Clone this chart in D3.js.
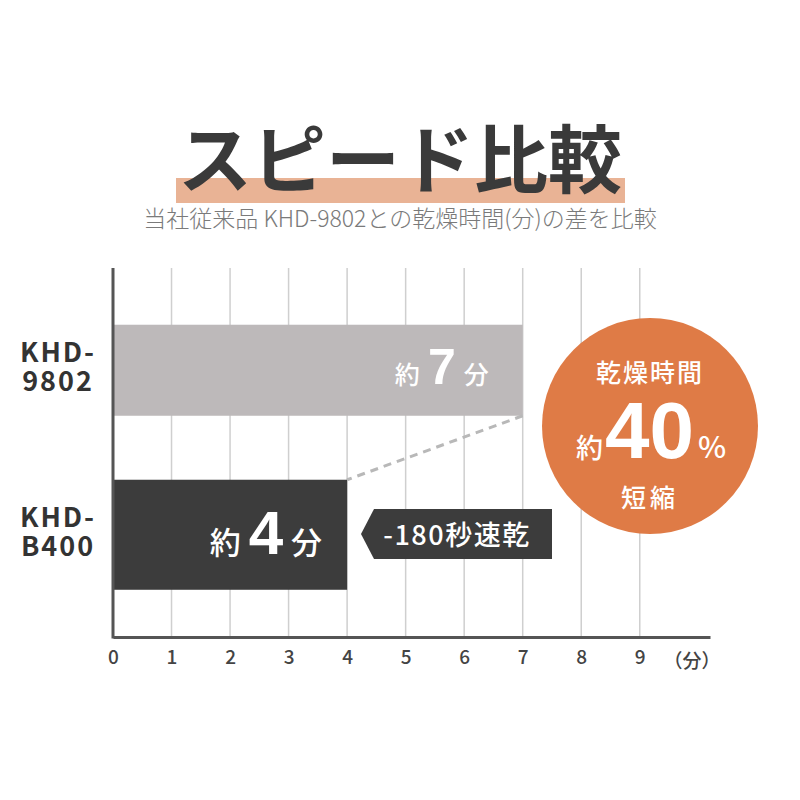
<!DOCTYPE html>
<html><head><meta charset="utf-8">
<script src="https://cdn.jsdelivr.net/npm/d3@7"></script>
<style>
html,body{margin:0;padding:0;background:#fff;}
text{font-family:"Noto Sans CJK JP","Noto Sans",sans-serif;}
</style></head>
<body>
<svg id="chart" width="800" height="800"></svg>
<script>
const categories = ["KHD-9802", "KHD-B400"];
const categoryLines = [["KHD-", "9802"], ["KHD-", "B400"]];
const minutes = [7, 4];
const xTicks = [0, 1, 2, 3, 4, 5, 6, 7, 8, 9];
const unitLabel = "（分）";
const title = "スピード比較";
const subtitle = "当社従来品 KHD-9802との乾燥時間(分)の差を比較";
const calloutText = "-180秒速乾";
const badgeLines = ["乾燥時間", "約", "40", "%", "短縮"];

const numFont = "'Liberation Sans',Arial,sans-serif";
const svg = d3.select("#chart");
const W = 800, H = 800;
svg.append("rect").attr("width", W).attr("height", H).attr("fill", "#fff");

// Title
svg.append("rect").attr("x", 176).attr("y", 178).attr("width", 449).attr("height", 25).attr("fill", "#e9b395");
svg.append("text").attr("x", 400).attr("y", 187).attr("text-anchor", "middle")
  .attr("font-size", 74).attr("font-weight", 700).attr("fill", "#3a3a3a").text(title);
svg.append("text").attr("x", 400).attr("y", 227).attr("text-anchor", "middle")
  .attr("font-size", 23).attr("font-weight", 300).attr("fill", "#7a7a7a").text(subtitle);

// Scales
const plotTop = 268, plotBottom = 637, plotLeft = 113;
const x = d3.scaleLinear().domain([0, 10.2]).range([plotLeft, 710]);
const y = d3.scaleBand().domain(categories).range([plotTop, plotBottom]).paddingInner(0.392).paddingOuter(0.3175);
const thick = [0.91, 1.1];

// Grid lines
svg.append("g").selectAll("line").data(xTicks.filter(d => d > 0)).join("line")
  .attr("x1", d => x(d)).attr("x2", d => x(d))
  .attr("y1", plotTop).attr("y2", plotBottom)
  .attr("stroke", "#cfcfcf").attr("stroke-width", 1.5);

// Bars
const barColors = ["#bdb9ba", "#3c3c3c"];
const barG = svg.append("g");
const barY = (d, i) => y(d) + y.bandwidth() / 2 - y.bandwidth() * thick[i] / 2;
const barH = (d, i) => y.bandwidth() * thick[i];
barG.selectAll("rect").data(categories).join("rect")
  .attr("x", x(0)).attr("y", barY)
  .attr("width", (d, i) => x(minutes[i]) - x(0))
  .attr("height", barH)
  .attr("fill", (d, i) => barColors[i]);

// Dashed connector
svg.append("line")
  .attr("x1", x(minutes[0])).attr("y1", barY(categories[0], 0) + barH(categories[0], 0))
  .attr("x2", x(minutes[1])).attr("y2", barY(categories[1], 1))
  .attr("stroke", "#b8b8b8").attr("stroke-width", 3).attr("stroke-dasharray", "8,6");

// Bar value labels
const labelCfg = [
  { base: 14, small: 25, big: 50, right: 34 },
  { base: 19, small: 31, big: 62, right: 25 }
];
categories.forEach((c, i) => {
  const cfg = labelCfg[i];
  const cy = y(c) + y.bandwidth() / 2;
  const t = svg.append("text").attr("y", cy + cfg.base).attr("x", x(minutes[i]) - cfg.right)
    .attr("text-anchor", "end").attr("fill", "#fff");
  t.append("tspan").attr("font-size", cfg.small).attr("font-weight", 500).text("約");
  t.append("tspan").attr("font-size", cfg.big).attr("font-weight", 700).attr("font-family", numFont).attr("dx", 8).text(minutes[i]);
  t.append("tspan").attr("font-size", cfg.small).attr("font-weight", 500).attr("dx", 8).text("分");
});

// Axes lines
svg.append("line").attr("x1", plotLeft).attr("x2", plotLeft).attr("y1", plotTop).attr("y2", plotBottom + 1.5)
  .attr("stroke", "#555").attr("stroke-width", 3);
const xAxis = svg.append("g").attr("transform", `translate(0,${plotBottom})`)
  .call(d3.axisBottom(x).tickValues(xTicks).tickSize(0).tickPadding(14).tickFormat(d3.format("d")));
xAxis.select(".domain").attr("stroke", "#555").attr("stroke-width", 3);
xAxis.selectAll("text").attr("font-size", 19).attr("font-family", "'Noto Sans CJK JP',sans-serif").attr("font-weight", 500).attr("fill", "#444");
svg.append("text").attr("x", 692).attr("y", 668).attr("text-anchor", "middle")
  .attr("font-size", 19).attr("font-weight", 500).attr("fill", "#444").text(unitLabel);

// Category labels
categories.forEach((c, i) => {
  const cy = y(c) + y.bandwidth() / 2;
  categoryLines[i].forEach((ln, j) => {
    svg.append("text").attr("x", 58).attr("y", cy - 8 + j * 29).attr("text-anchor", "middle")
      .attr("font-size", 27).attr("font-weight", 700).attr("letter-spacing", 2).attr("fill", "#333")
      .attr("font-family", numFont).text(ln);
  });
});

// Callout
const cL = 361, cR = 552, cT = 509, cB = 559, cNotch = 374;
svg.append("path").attr("d", `M${cL},${(cT + cB) / 2} L${cNotch},${cT} L${cR},${cT} L${cR},${cB} L${cNotch},${cB} Z`)
  .attr("fill", "#3c3c3c");
svg.append("text").attr("x", 457).attr("y", 545).attr("text-anchor", "middle")
  .attr("font-size", 27).attr("font-weight", 500).attr("letter-spacing", 1.5).attr("fill", "#fff").text(calloutText);

// Badge
const bx = 650, by = 426, br = 108;
svg.append("circle").attr("cx", bx).attr("cy", by).attr("r", br).attr("fill", "#df7b46");
svg.append("text").attr("x", bx).attr("y", 382).attr("text-anchor", "middle")
  .attr("font-size", 25).attr("font-weight", 500).attr("letter-spacing", 2).attr("fill", "#fff").text(badgeLines[0]);
const bt = svg.append("text").attr("x", bx + 1).attr("y", 458).attr("text-anchor", "middle").attr("fill", "#fff");
bt.append("tspan").attr("font-size", 27).attr("font-weight", 500).text(badgeLines[1]);
bt.append("tspan").attr("font-size", 80).attr("font-weight", 700).attr("font-family", numFont).attr("dx", 2).text(badgeLines[2]);
bt.append("tspan").attr("font-size", 30).attr("font-weight", 500).attr("dx", 4).text(badgeLines[3]);
svg.append("text").attr("x", bx).attr("y", 507).attr("text-anchor", "middle")
  .attr("font-size", 25).attr("font-weight", 500).attr("letter-spacing", 4).attr("fill", "#fff").text(badgeLines[4]);
</script>
</body></html>
